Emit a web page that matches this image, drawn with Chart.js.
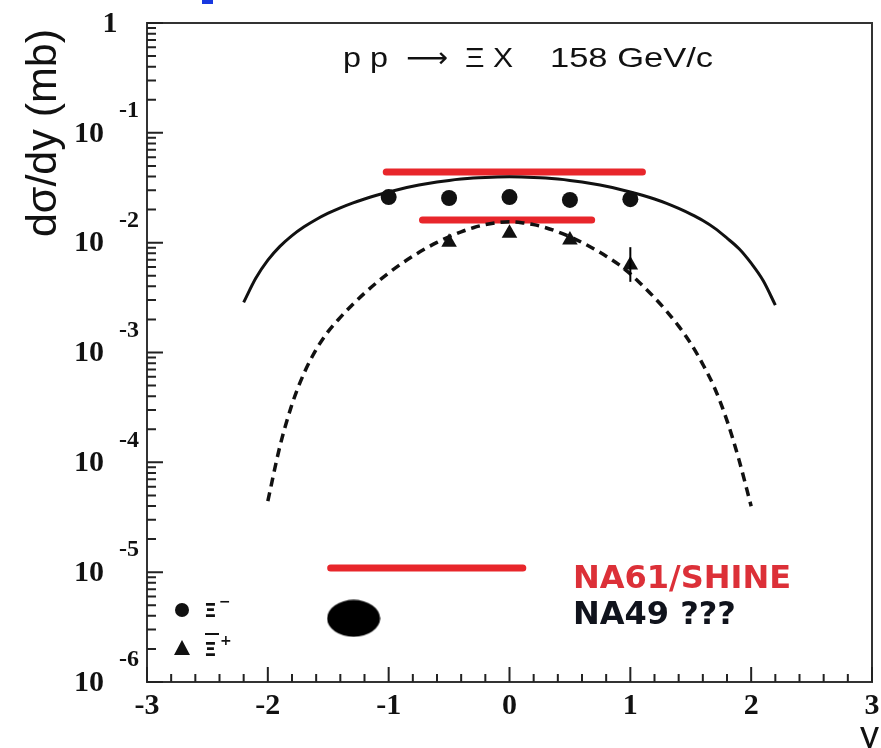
<!DOCTYPE html>
<html><head><meta charset="utf-8">
<script src="https://cdn.jsdelivr.net/npm/chart.js@4/dist/chart.umd.min.js"></script>
<style>html,body{margin:0;padding:0;background:#fff;}canvas{display:block;}</style>
</head><body>
<canvas id="c" width="881" height="748"></canvas>
<script>
// ---- data ----
const solidX = [-2.2,-2.1,-2.0,-1.9,-1.8,-1.7,-1.6,-1.5,-1.4,-1.3,-1.2,-1.1,-1.0,-0.9,-0.8,-0.7,-0.6,-0.5,-0.4,-0.3,-0.2,-0.1,0,0.1,0.2,0.3,0.4,0.5,0.6,0.7,0.8,0.9,1.0,1.1,1.2,1.3,1.4,1.5,1.6,1.7,1.8,1.9,2.0,2.1,2.2];
const solidY = [0.00286,0.00474,0.00693,0.00925,0.01159,0.01393,0.01626,0.01854,0.02075,0.02291,0.02500,0.02704,0.02897,0.03083,0.03258,0.03420,0.03565,0.03690,0.03793,0.03873,0.03926,0.03963,0.03981,0.03963,0.03926,0.03873,0.03793,0.03690,0.03565,0.03420,0.03258,0.03083,0.02897,0.02704,0.02500,0.02280,0.02050,0.01820,0.01590,0.01350,0.01100,0.00880,0.00650,0.00450,0.00270];
const dashX = [-2.0,-1.9,-1.8,-1.7,-1.6,-1.5,-1.4,-1.3,-1.2,-1.1,-1.0,-0.9,-0.8,-0.7,-0.6,-0.5,-0.4,-0.3,-0.2,-0.1,0,0.1,0.2,0.3,0.4,0.5,0.6,0.7,0.8,0.9,1.0,1.1,1.2,1.3,1.4,1.5,1.6,1.7,1.8,1.9,2.0];
const dashY = [4.44e-5,1.40e-4,3.37e-4,6.49e-4,1.064e-3,1.556e-3,2.089e-3,2.723e-3,3.467e-3,4.325e-3,5.297e-3,6.368e-3,7.534e-3,8.770e-3,1.005e-2,1.132e-2,1.256e-2,1.368e-2,1.459e-2,1.521e-2,1.549e-2,1.521e-2,1.459e-2,1.368e-2,1.256e-2,1.132e-2,1.005e-2,8.770e-3,7.534e-3,6.368e-3,5.20e-3,4.08e-3,3.155e-3,2.38e-3,1.738e-3,1.208e-3,7.80e-4,4.68e-4,2.40e-4,1.047e-4,3.98e-5];
const xiMinusX = [-1,-0.5,0,0.5,1];
const xiMinusY = [0.026,0.0255,0.026,0.0245,0.0249];
const antiXiX = [-0.5,0,0.5,1];
const antiXiY = [0.0101,0.0122,0.0106,0.00625];
const antiXiErrLo = [0.0101,0.0122,0.0106,0.0044];
const antiXiErrHi = [0.0101,0.0122,0.0106,0.0091];
const na61UpperX = [-1.02,1.10], na61UpperY = [0.044,0.044];
const na61MidX = [-0.72,0.68], na61MidY = [0.0161,0.0161];
const na61LowX = [-1.48,0.11], na61LowY = [1.09e-5,1.09e-5];
const na49X = [-1.29], na49Y = [3.8e-6];
const xMajorTicks = [-3,-2,-1,0,1,2,3];
const xTickLabels = ['-3','-2','-1','0','1','2','3'];
const yDecades = [0,-1,-2,-3,-4,-5,-6];
const titleText = ['p p','\u27F6','\u039E X','158 GeV/c'];
const yTitle = 'd\u03C3/dy (mb)';
const xTitle = 'y';

const pts = (xs, ys) => xs.map((x, i) => ({x, y: ys[i]}));

// ellipse marker
const ell = document.createElement('canvas');
ell.width = 54; ell.height = 38;
{ const g = ell.getContext('2d'); g.fillStyle = '#000'; g.beginPath(); g.ellipse(27,19,26.5,18.5,0,0,Math.PI*2); g.fill(); }

const RED = '#e8262b';
const SERIF = 'bold 30px "Liberation Serif", "Times New Roman", serif';

function fitText(ctx, txt, x, y, w) {
  const m = ctx.measureText(txt).width;
  ctx.save(); ctx.translate(x, y); ctx.scale(w / m, 1);
  ctx.fillText(txt, 0, 0); ctx.restore();
}

const decor = {
  id: 'decor',
  afterDatasetsDraw(chart) {
    const ctx = chart.ctx, a = chart.chartArea;
    const xs = chart.scales.x, ys = chart.scales.y;
    ctx.save();
    // error bar
    ctx.strokeStyle = '#000'; ctx.lineWidth = 2;
    antiXiX.forEach((x, i) => {
      if (antiXiErrHi[i] !== antiXiErrLo[i]) {
        const px = xs.getPixelForValue(x);
        ctx.beginPath();
        ctx.moveTo(px, ys.getPixelForValue(antiXiErrHi[i]));
        ctx.lineTo(px, ys.getPixelForValue(antiXiErrLo[i]));
        ctx.stroke();
      }
    });
    // frame
    ctx.strokeStyle = '#333'; ctx.lineWidth = 2;
    ctx.strokeRect(a.left, a.top, a.right - a.left, a.bottom - a.top);
    // y ticks (inside)
    ctx.lineWidth = 2; ctx.strokeStyle = '#222';
    ctx.beginPath();
    yDecades.forEach(d => {
      const py = ys.getPixelForValue(Math.pow(10, d));
      ctx.moveTo(a.left, py); ctx.lineTo(a.left + 16, py);
      if (d > -6) {
        for (let k = 2; k <= 9; k++) {
          const p = ys.getPixelForValue(k * Math.pow(10, d - 1));
          ctx.moveTo(a.left, p); ctx.lineTo(a.left + 9, p);
        }
      }
    });
    // x ticks
    for (let v = -3; v <= 3.001; v += 0.2) {
      const px = xs.getPixelForValue(v);
      const major = Math.abs(v - Math.round(v)) < 1e-6;
      ctx.moveTo(px, a.bottom); ctx.lineTo(px, a.bottom - (major ? 15 : 8));
    }
    ctx.stroke();
    // y tick labels
    ctx.fillStyle = '#111';
    yDecades.forEach(d => {
      const py = ys.getPixelForValue(Math.pow(10, d));
      if (d === 0) {
        ctx.font = SERIF; ctx.textAlign = 'center'; ctx.textBaseline = 'middle';
        ctx.fillText('1', 110, py + 1);
      } else {
        ctx.font = SERIF; ctx.textAlign = 'right'; ctx.textBaseline = 'middle';
        ctx.fillText('10', 104, py + 1);
        ctx.font = 'bold 24px "Liberation Serif", serif'; ctx.textAlign = 'left';
        ctx.fillText(String(d), 119, py - 22);
      }
    });
    // x tick labels
    ctx.font = SERIF; ctx.textAlign = 'center'; ctx.textBaseline = 'middle';
    xMajorTicks.forEach((v, i) => {
      ctx.fillText(xTickLabels[i], xs.getPixelForValue(v), a.bottom + 24);
    });
    // axis titles
    ctx.font = '38px "Liberation Sans", Arial, sans-serif';
    ctx.textAlign = 'right'; ctx.textBaseline = 'alphabetic';
    ctx.fillText(xTitle, 879, 748);
    ctx.save();
    ctx.translate(44, 133); ctx.rotate(-Math.PI / 2);
    ctx.font = '43px "Liberation Sans", Arial, sans-serif';
    ctx.textAlign = 'center'; ctx.textBaseline = 'middle';
    ctx.fillText(yTitle, 0, 0);
    ctx.restore();
    // title
    ctx.textAlign = 'left'; ctx.textBaseline = 'alphabetic';
    ctx.font = '28px "Liberation Sans", Arial, sans-serif';
    fitText(ctx, titleText[0], 343, 67, 45);
    ctx.font = '28px "DejaVu Sans", sans-serif';
    fitText(ctx, titleText[1], 406, 67, 42);
    ctx.font = '28px "Liberation Sans", Arial, sans-serif';
    fitText(ctx, titleText[2], 465, 67, 48);
    fitText(ctx, titleText[3], 550, 67, 163);
    // annotations
    ctx.font = 'bold 32px "DejaVu Sans", sans-serif';
    ctx.fillStyle = '#dc3038';
    ctx.fillText('NA61/SHINE', 573, 588);
    ctx.fillStyle = '#10131c';
    ctx.fillText('NA49 ???', 573, 624);
    // legend
    ctx.fillStyle = '#111';
    ctx.beginPath(); ctx.arc(182, 610, 7, 0, Math.PI * 2); ctx.fill();
    ctx.beginPath(); ctx.moveTo(182, 640); ctx.lineTo(190, 655); ctx.lineTo(174, 655); ctx.closePath(); ctx.fill();
    ctx.font = 'bold 20px "DejaVu Sans", sans-serif';
    ctx.textAlign = 'left'; ctx.textBaseline = 'alphabetic';
    ctx.fillText('\u039E', 204, 617);
    ctx.font = 'bold 14px "DejaVu Sans", sans-serif';
    ctx.fillText('\u2212', 219, 606);
    ctx.font = 'bold 20px "DejaVu Sans", sans-serif';
    ctx.fillText('\u039E', 204, 656);
    ctx.fillRect(205, 633, 14, 2);
    ctx.font = 'bold 14px "DejaVu Sans", sans-serif';
    ctx.fillText('+', 220, 645);
    // blue remnant at top
    ctx.fillStyle = '#1838e0';
    ctx.fillRect(202, 0, 11, 4);
    ctx.restore();
  }
};

new Chart(document.getElementById('c'), {
  type: 'scatter',
  data: {
    datasets: [
      { label: 'Xi-', data: pts(xiMinusX, xiMinusY), pointStyle: 'circle', pointRadius: 8, backgroundColor: '#111', borderColor: '#111', borderWidth: 0, showLine: false },
      { label: 'antiXi+', data: pts(antiXiX, antiXiY), pointStyle: 'triangle', pointRadius: 9, backgroundColor: '#111', borderColor: '#111', borderWidth: 0, showLine: false },
      { label: 'NA49', data: pts(na49X, na49Y), pointStyle: ell, showLine: false },
      { label: 'solid', data: pts(solidX, solidY), showLine: true, borderColor: '#111', borderWidth: 3, pointRadius: 0, cubicInterpolationMode: 'monotone', fill: false },
      { label: 'dashed', data: pts(dashX, dashY), showLine: true, borderColor: '#111', borderWidth: 3.5, borderDash: [9, 6], pointRadius: 0, cubicInterpolationMode: 'monotone', fill: false },
      { label: 'NA61 upper', data: pts(na61UpperX, na61UpperY), showLine: true, borderColor: RED, borderWidth: 7, borderCapStyle: 'round', pointRadius: 0 },
      { label: 'NA61 mid', data: pts(na61MidX, na61MidY), showLine: true, borderColor: RED, borderWidth: 7, borderCapStyle: 'round', pointRadius: 0 },
      { label: 'NA61 low', data: pts(na61LowX, na61LowY), showLine: true, borderColor: RED, borderWidth: 7, borderCapStyle: 'round', pointRadius: 0 }
    ]
  },
  options: {
    responsive: false,
    animation: false,
    layout: { padding: { left: 147, top: 23, right: 3, bottom: 66 } },
    plugins: { legend: { display: false }, tooltip: { enabled: false }, title: { display: false } },
    scales: {
      x: { type: 'linear', min: -3, max: 3, display: false },
      y: { type: 'logarithmic', min: 1e-6, max: 1, display: false }
    }
  },
  plugins: [decor]
});
</script>
</body></html>
